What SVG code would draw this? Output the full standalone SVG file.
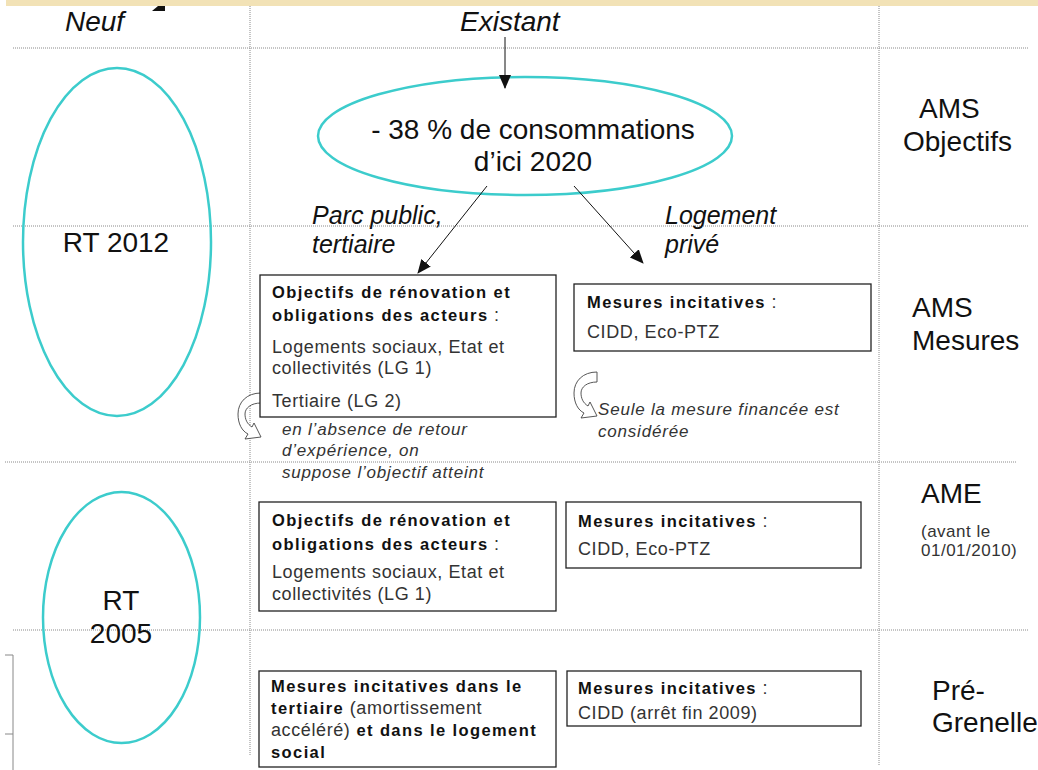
<svg xmlns="http://www.w3.org/2000/svg" width="1038" height="770" viewBox="0 0 1038 770">
<style>
.grid{stroke:#8a8a8a;stroke-width:1;stroke-dasharray:1 1;fill:none}
.oval{fill:none;stroke:#3ccccc;stroke-width:2.5}
.box{fill:#fff;stroke:#222;stroke-width:1.3}
.big{font-family:"Liberation Sans",Arial,sans-serif;font-size:28px;fill:#111}
.bigi{font-family:"Liberation Sans",Arial,sans-serif;font-size:28px;font-style:italic;fill:#111}
.lab{font-family:"Liberation Sans",Arial,sans-serif;font-size:25px;font-style:italic;fill:#111}
.b{font-family:"Liberation Sans",Arial,sans-serif;font-size:16.5px;font-weight:bold;letter-spacing:1.4px;fill:#111}
.r{font-family:"Liberation Sans",Arial,sans-serif;font-size:18px;letter-spacing:0.6px;fill:#333;font-weight:normal}
.note{font-family:"Liberation Sans",Arial,sans-serif;font-size:17px;font-style:italic;letter-spacing:0.8px;fill:#333}
.small{font-family:"Liberation Sans",Arial,sans-serif;font-size:17px;letter-spacing:0.5px;fill:#333}
.conn{stroke:#111;stroke-width:1;fill:none}
.curv{fill:#fff;stroke:#444;stroke-width:0.9}
</style>
<defs>
<marker id="ah" markerUnits="userSpaceOnUse" markerWidth="14" markerHeight="12" refX="13" refY="6" orient="auto">
<path d="M0,0 L14,6 L0,12 Z" fill="#111"/>
</marker>
</defs>
<rect x="6" y="0" width="1032" height="6" fill="#f2e2b6"/>
<path d="M152,11 L158,6 L165,6 L165,11 Z" fill="#111"/>
<g id="grid">
<line class="grid" x1="13" y1="48" x2="1028" y2="48"/>
<line class="grid" x1="13" y1="226" x2="1028" y2="226"/>
<line class="grid" x1="5" y1="462" x2="1017" y2="462"/>
<line class="grid" x1="13" y1="630" x2="1028" y2="630"/>
<line class="grid" x1="250" y1="6" x2="250" y2="755"/>
<line class="grid" x1="879" y1="6" x2="879" y2="765"/>
</g>
<path d="M5,655 H13 V770 M5,734 H13" fill="none" stroke="#888" stroke-width="1"/>
<text class="bigi" x="65" y="31">Neuf</text>
<text class="bigi" x="460" y="31">Existant</text>
<g id="rt2012">
<ellipse class="oval" cx="117" cy="242" rx="94" ry="174"/>
<text class="big" x="116" y="252" text-anchor="middle" font-size="30">RT 2012</text>
</g>
<g id="rt2005">
<ellipse class="oval" cx="121.5" cy="617.5" rx="78.5" ry="125.5"/>
<text class="big" x="121" y="610" text-anchor="middle" font-size="30">RT</text>
<text class="big" x="121" y="643" text-anchor="middle" font-size="30">2005</text>
</g>
<g id="objectif">
<ellipse class="oval" cx="525" cy="136" rx="207" ry="59"/>
<text class="big" x="533" y="139" text-anchor="middle" font-size="30">- 38 % de consommations</text>
<text class="big" x="533" y="171" text-anchor="middle" font-size="30">d’ici 2020</text>
</g>
<g id="connectors">
<line class="conn" x1="505" y1="37" x2="505" y2="88" marker-end="url(#ah)"/>
<line class="conn" x1="487" y1="186" x2="418" y2="273" marker-end="url(#ah)"/>
<line class="conn" x1="574" y1="186" x2="643" y2="263" marker-end="url(#ah)"/>
</g>
<text class="lab" x="312" y="224">Parc public,</text>
<text class="lab" x="312" y="253">tertiaire</text>
<text class="lab" x="665" y="224">Logement</text>
<text class="lab" x="665" y="253">privé</text>
<g id="curved1">
<path class="curv" d="M261,393 C247,393 238,402 238,414 C238,424 242,431 248,434 L245,439 L261,437 L254,423 L252,427 C247,424 245,419 245,414 C245,408 251,403 261,403 Z"/>
</g>
<g id="curved2">
<path class="curv" transform="translate(336,-21)" d="M261,393 C247,393 238,402 238,414 C238,424 242,431 248,434 L245,439 L261,437 L254,423 L252,427 C247,424 245,419 245,414 C245,408 251,403 261,403 Z"/>
</g>
<g id="box-ams-obj">
<rect class="box" x="260" y="275" width="296" height="142"/>
<text class="b" x="272" y="298">Objectifs de rénovation et</text>
<text class="b" x="272" y="321">obligations des acteurs<tspan class="r"> :</tspan></text>
<text class="r" x="272" y="353">Logements sociaux, Etat et</text>
<text class="r" x="272" y="374">collectivités (LG 1)</text>
<text class="r" x="272" y="407">Tertiaire (LG 2)</text>
</g>
<g id="box-ams-mes">
<rect class="box" x="574" y="284" width="297" height="67"/>
<text class="b" x="587" y="308">Mesures incitatives<tspan class="r"> :</tspan></text>
<text class="r" x="587" y="338">CIDD, Eco-PTZ</text>
</g>
<text class="note" x="282" y="435">en l’absence de retour</text>
<text class="note" x="282" y="456">d’expérience, on</text>
<text class="note" x="282" y="478">suppose l’objectif atteint</text>
<text class="note" x="598" y="415">Seule la mesure financée est</text>
<text class="note" x="598" y="437">considérée</text>
<g id="box-ame-obj">
<rect class="box" x="259" y="502" width="297" height="109"/>
<text class="b" x="272" y="526">Objectifs de rénovation et</text>
<text class="b" x="272" y="550">obligations des acteurs<tspan class="r"> :</tspan></text>
<text class="r" x="272" y="578">Logements sociaux, Etat et</text>
<text class="r" x="272" y="600">collectivités (LG 1)</text>
</g>
<g id="box-ame-mes">
<rect class="box" x="566" y="502" width="295" height="66"/>
<text class="b" x="578" y="527">Mesures incitatives<tspan class="r"> :</tspan></text>
<text class="r" x="578" y="555">CIDD, Eco-PTZ</text>
</g>
<g id="box-pre-tert">
<rect class="box" x="259" y="671" width="297" height="96"/>
<text class="b" x="271" y="692">Mesures incitatives dans le</text>
<text class="b" x="271" y="714">tertiaire<tspan class="r"> (amortissement</tspan></text>
<text class="b" x="271" y="736"><tspan class="r">accéléré)</tspan> et dans le logement</text>
<text class="b" x="271" y="758">social</text>
</g>
<g id="box-pre-mes">
<rect class="box" x="567" y="671" width="294" height="55"/>
<text class="b" x="578" y="694">Mesures incitatives<tspan class="r"> :</tspan></text>
<text class="r" x="578" y="719">CIDD (arrêt fin 2009)</text>
</g>
<text class="big" x="919" y="118" font-size="27">AMS</text>
<text class="big" x="903" y="151" font-size="27">Objectifs</text>
<text class="big" x="912" y="317" font-size="27">AMS</text>
<text class="big" x="912" y="350" font-size="27">Mesures</text>
<text class="big" x="921" y="503" font-size="27">AME</text>
<text class="small" x="921" y="537">(avant le</text>
<text class="small" x="921" y="556">01/01/2010)</text>
<text class="big" x="932" y="700" font-size="27">Pré-</text>
<text class="big" x="932" y="732" font-size="27">Grenelle</text>
</svg>
